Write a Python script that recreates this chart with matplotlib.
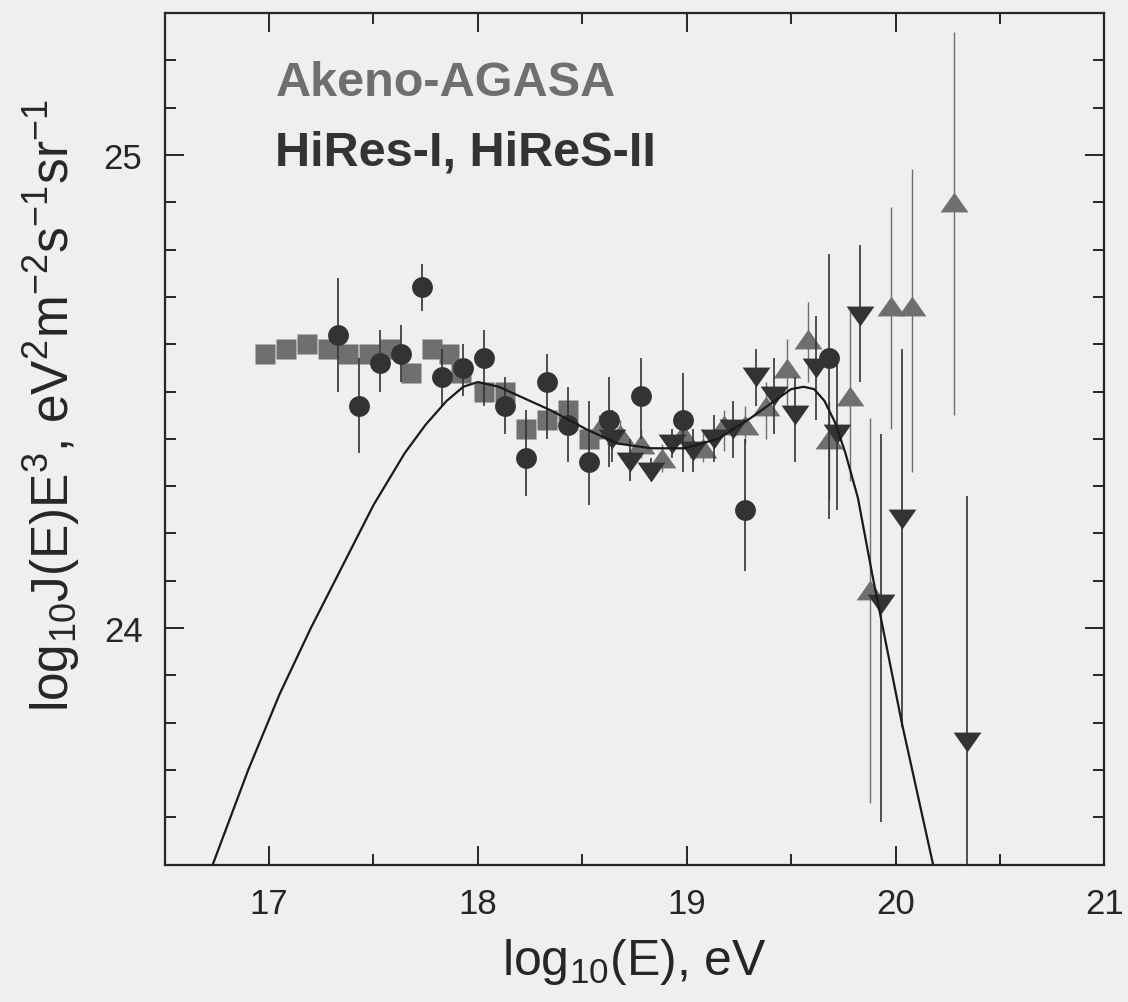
import numpy as np
import matplotlib
matplotlib.use("Agg")
import matplotlib.pyplot as plt
from matplotlib.ticker import MultipleLocator

plt.rcParams['font.family'] = ['Liberation Sans', 'DejaVu Sans']
plt.rcParams['mathtext.default'] = 'regular'

# Akeno (1 km^2) - grey squares
akeno_x = [16.98, 17.08, 17.18, 17.28, 17.38, 17.48, 17.58, 17.68, 17.78, 17.86,
           17.92, 18.03, 18.13, 18.23, 18.33, 18.43, 18.53]
akeno_y = [24.58, 24.59, 24.60, 24.59, 24.58, 24.58, 24.59, 24.54, 24.59, 24.58,
           24.54, 24.50, 24.50, 24.42, 24.44, 24.46, 24.40]

# AGASA - grey up triangles
agasa_x = [18.58, 18.68, 18.78, 18.88, 18.98, 19.08, 19.18, 19.28, 19.38, 19.48,
           19.58, 19.68, 19.78, 19.88, 19.98, 20.08, 20.28]
agasa_y = [24.42, 24.41, 24.39, 24.36, 24.41, 24.38, 24.43, 24.43, 24.47, 24.55,
           24.61, 24.40, 24.49, 24.08, 24.68, 24.68, 24.90]
agasa_lo = [24.40, 24.39, 24.36, 24.33, 24.39, 24.35, 24.375, 24.39, 24.40, 24.47,
            24.52, 24.27, 24.31, 23.63, 24.42, 24.33, 24.45]
agasa_hi = [24.45, 24.44, 24.42, 24.39, 24.44, 24.42, 24.46, 24.47, 24.52, 24.61,
            24.69, 24.48, 24.67, 24.445, 24.89, 24.97, 25.26]

# HiRes-I - dark down triangles
hr1_x = [18.64, 18.73, 18.83, 18.93, 19.03, 19.13, 19.22, 19.33, 19.42, 19.52,
         19.62, 19.72, 19.83, 19.93, 20.03, 20.34]
hr1_y = [24.40, 24.35, 24.33, 24.39, 24.375, 24.40, 24.42, 24.53, 24.49, 24.45,
         24.55, 24.41, 24.66, 24.05, 24.23, 23.76]
hr1_lo = [24.35, 24.31, 24.31, 24.36, 24.33, 24.35, 24.36, 24.47, 24.41, 24.35,
          24.44, 24.25, 24.52, 23.59, 23.79, 23.42]
hr1_hi = [24.46, 24.40, 24.36, 24.42, 24.42, 24.45, 24.48, 24.59, 24.57, 24.53,
          24.66, 24.57, 24.81, 24.41, 24.59, 24.28]

# HiRes-II - dark circles
hr2_x = [17.33, 17.43, 17.53, 17.63, 17.73, 17.83, 17.93, 18.03, 18.13, 18.23,
         18.33, 18.43, 18.53, 18.63, 18.78, 18.98, 19.28, 19.68]
hr2_y = [24.62, 24.47, 24.56, 24.58, 24.72, 24.53, 24.55, 24.57, 24.47, 24.36,
         24.52, 24.43, 24.35, 24.44, 24.49, 24.44, 24.25, 24.57]
hr2_lo = [24.50, 24.37, 24.50, 24.52, 24.67, 24.47, 24.49, 24.47, 24.41, 24.28,
          24.40, 24.35, 24.26, 24.34, 24.40, 24.33, 24.12, 24.23]
hr2_hi = [24.74, 24.57, 24.63, 24.64, 24.77, 24.59, 24.60, 24.63, 24.53, 24.46,
          24.58, 24.51, 24.48, 24.53, 24.57, 24.54, 24.40, 24.79]

# model curve
curve_x = [16.73, 16.90, 17.05, 17.20, 17.35, 17.50, 17.65, 17.75, 17.85, 17.93,
           18.00, 18.10, 18.20, 18.35, 18.52, 18.67, 18.83, 18.99, 19.15, 19.31,
           19.42, 19.50, 19.56, 19.61, 19.66, 19.71, 19.76, 19.82, 19.89, 20.03,
           20.18]
curve_y = [23.50, 23.70, 23.86, 24.00, 24.13, 24.26, 24.37, 24.43, 24.48, 24.51,
           24.52, 24.51, 24.49, 24.46, 24.42, 24.39, 24.38, 24.38, 24.40, 24.445,
           24.48, 24.505, 24.51, 24.505, 24.48, 24.435, 24.37, 24.275, 24.11, 23.80,
           23.50]

GREY = '#6f6f6f'
DARK = '#333333'
BG = '#efefef'
INK = '#262626'

up_tri = [(-1.4, -1.0), (1.4, -1.0), (0.0, 1.0), (-1.4, -1.0)]
down_tri = [(-1.4, 1.0), (1.4, 1.0), (0.0, -1.0), (-1.4, 1.0)]


def err(y, lo, hi):
    y = np.asarray(y)
    return [y - np.asarray(lo), np.asarray(hi) - y]


fig = plt.figure(figsize=(11.28, 10.03), dpi=100, facecolor=BG)
ax = fig.add_axes([0.146, 0.137, 0.833, 0.849])
ax.set_facecolor(BG)

ax.plot(akeno_x, akeno_y, ls='none', marker='s', ms=15, color=GREY, mec='none', zorder=2)
ax.errorbar(agasa_x, agasa_y, yerr=err(agasa_y, agasa_lo, agasa_hi), fmt='none',
            ecolor=GREY, elinewidth=1.0, zorder=2)
ax.plot(agasa_x, agasa_y, ls='none', marker=up_tri, ms=20, color=GREY, mec='none', zorder=3)
ax.errorbar(hr2_x, hr2_y, yerr=err(hr2_y, hr2_lo, hr2_hi), fmt='none',
            ecolor=DARK, elinewidth=1.2, zorder=4)
ax.plot(hr2_x, hr2_y, ls='none', marker='o', ms=15, color=DARK, mec='none', zorder=5)
ax.errorbar(hr1_x, hr1_y, yerr=err(hr1_y, hr1_lo, hr1_hi), fmt='none',
            ecolor=DARK, elinewidth=1.2, zorder=4)
ax.plot(hr1_x, hr1_y, ls='none', marker=down_tri, ms=20, color=DARK, mec='none', zorder=5)
ax.plot(curve_x, curve_y, color='#1a1a1a', lw=1.6, zorder=6)

ax.set_xlim(16.5, 21)
ax.set_ylim(23.5, 25.3)
ax.xaxis.set_major_locator(MultipleLocator(1))
ax.xaxis.set_minor_locator(MultipleLocator(0.5))
ax.yaxis.set_major_locator(MultipleLocator(1))
ax.yaxis.set_minor_locator(MultipleLocator(0.1))
ax.tick_params(which='both', direction='in', top=True, right=True, width=1.4,
               colors=INK, labelsize=25, pad=16)
ax.tick_params(which='major', length=14)
ax.tick_params(which='minor', length=8)
for s in ax.spines.values():
    s.set_linewidth(1.6)
    s.set_color(INK)

ax.set_xlabel(r'log$_{10}$(E), eV', fontsize=36, color=INK, labelpad=12)
ax.set_ylabel(r'log$_{10}$J(E)E$^3$, eV$^2$m$^{-2}$s$^{-1}$sr$^{-1}$', fontsize=37,
              color=INK)
ax.yaxis.set_label_coords(-0.088, 0.54)

ax.text(17.03, 25.127, 'Akeno-AGASA', fontsize=35, fontweight='bold', color=GREY)
ax.text(17.03, 24.98, 'HiRes-I, HiReS-II', fontsize=35, fontweight='bold', color=DARK)

fig.savefig('out.png', dpi=100, facecolor=BG)
